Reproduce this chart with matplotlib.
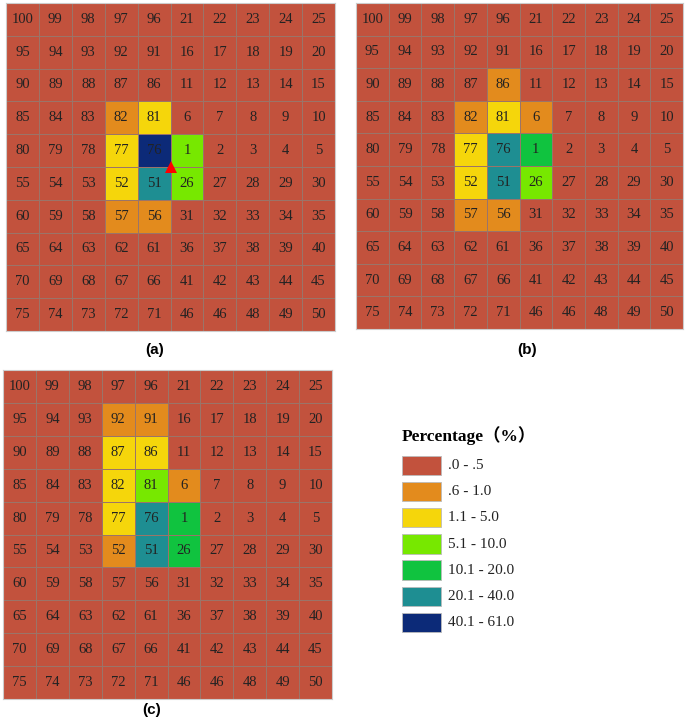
import numpy as np
import matplotlib
matplotlib.use("Agg")
import matplotlib.pyplot as plt
from matplotlib.colors import ListedColormap, BoundaryNorm
from matplotlib.patches import Rectangle

# Cell numbers (same for every panel), row by row from top
cell_numbers = [
    [100, 99, 98, 97, 96, 21, 22, 23, 24, 25],
    [95, 94, 93, 92, 91, 16, 17, 18, 19, 20],
    [90, 89, 88, 87, 86, 11, 12, 13, 14, 15],
    [85, 84, 83, 82, 81, 6, 7, 8, 9, 10],
    [80, 79, 78, 77, 76, 1, 2, 3, 4, 5],
    [55, 54, 53, 52, 51, 26, 27, 28, 29, 30],
    [60, 59, 58, 57, 56, 31, 32, 33, 34, 35],
    [65, 64, 63, 62, 61, 36, 37, 38, 39, 40],
    [70, 69, 68, 67, 66, 41, 42, 43, 44, 45],
    [75, 74, 73, 72, 71, 46, 46, 48, 49, 50],
]

# Percentage class of non-background cells per panel (class index into legend)
panel_a_classes = {82: 1, 81: 2, 77: 2, 76: 6, 1: 3, 52: 2, 51: 5, 26: 3, 57: 1, 56: 1}
panel_b_classes = {86: 1, 82: 1, 81: 2, 6: 1, 77: 2, 76: 5, 1: 4, 52: 2, 51: 5, 26: 3, 57: 1, 56: 1}
panel_c_classes = {92: 1, 91: 1, 87: 2, 86: 2, 82: 2, 81: 3, 6: 1, 77: 2, 76: 5, 1: 4, 52: 1, 51: 5, 26: 4}

panel_labels = ["(a)", "(b)", "(c)"]
legend_title = "Percentage（%）"
class_labels = [".0 - .5", ".6 - 1.0", "1.1 - 5.0", "5.1 - 10.0", "10.1 - 20.0", "20.1 - 40.0", "40.1 - 61.0"]
class_colors = ["#C2523D", "#E38B1D", "#F5D60B", "#77E800", "#10C33F", "#1E8E92", "#0C2A78"]

# source marker (cell corner) in panel a: between columns 4/5 and rows 4/5
source_point = (5, 5)

W, H = 685, 718
fig = plt.figure(figsize=(W / 100, H / 100), dpi=100)

cmap = ListedColormap(class_colors)
norm = BoundaryNorm(np.arange(-0.5, len(class_colors) + 0.5), cmap.N)
numbers = np.array(cell_numbers)

def px_axes(x0, y0, x1, y1):
    return fig.add_axes([x0 / W, 1 - y1 / H, (x1 - x0) / W, (y1 - y0) / H])

boxes = [(6, 3, 335, 331), (356, 3, 683, 329), (3, 370, 332, 699)]
label_pos = [(155, 350), (527, 350), (152, 710)]
all_classes = [panel_a_classes, panel_b_classes, panel_c_classes]

for i, (box, cls) in enumerate(zip(boxes, all_classes)):
    ax = px_axes(*box)
    grid = np.zeros_like(numbers)
    for r in range(numbers.shape[0]):
        for c in range(numbers.shape[1]):
            grid[r, c] = cls.get(int(numbers[r, c]), 0) if not (r == 9 and c == 6 and False) else 0
    ax.pcolormesh(np.arange(11), np.arange(11), grid, cmap=cmap, norm=norm,
                  edgecolors="#9b7468", linewidth=0.6)
    for r in range(10):
        for c in range(10):
            ax.text(c + 0.5, r + 0.5, str(numbers[r, c]), ha="center", va="center",
                    fontsize=10.5, family="Liberation Serif", color="#222222")
    ax.set_xlim(0, 10)
    ax.set_ylim(10, 0)
    ax.set_xticks([])
    ax.set_yticks([])
    for s in ax.spines.values():
        s.set_color("#cccccc")
        s.set_linewidth(0.8)
    if i == 0:
        ax.plot([source_point[0]], [source_point[1]], marker="^", color="#FF0000",
                markersize=9, markeredgewidth=0, clip_on=False, zorder=5)
    lx, ly = label_pos[i]
    fig.text(lx / W, 1 - ly / H, panel_labels[i], ha="center", va="center",
             fontsize=11, fontweight="bold", family="Liberation Sans")

# Legend
fig.text(402 / W, 1 - 436 / H, legend_title, ha="left", va="center", fontsize=12.5,
         fontweight="bold", family=["Liberation Serif", "Noto Sans CJK SC"])
lax = fig.add_axes([0, 0, 1, 1], facecolor="none")
lax.set_xlim(0, W)
lax.set_ylim(H, 0)
lax.axis("off")
for k, (lab, col) in enumerate(zip(class_labels, class_colors)):
    y0 = 455.5 + k * 26.2
    lax.add_patch(Rectangle((402, y0), 39, 19.5, facecolor=col, edgecolor="#bbbbbb", linewidth=0.6))
    lax.text(448, y0 + 10, lab, ha="left", va="center", fontsize=11, family="Liberation Serif",
             color="#222222")

fig.savefig("out.png", dpi=100)
